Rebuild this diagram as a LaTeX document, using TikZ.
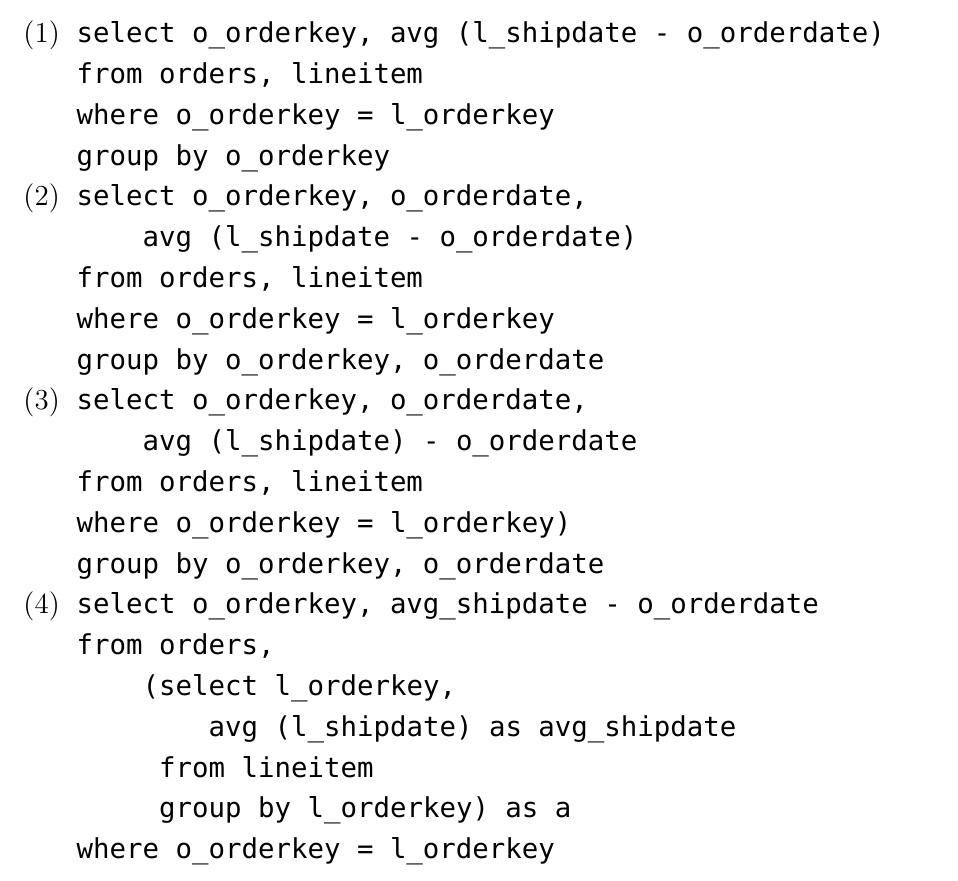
\documentclass[tikz,border=0pt]{standalone}
\usepackage{fontspec}
\usepackage{tikz}
\usetikzlibrary{positioning}
\newfontfamily\sqlfont{DejaVu Sans Mono}
\newlength{\cw}
\setlength{\cw}{8.25pt}

\begin{document}
\begin{tikzpicture}[
    code/.style={font=\fontsize{13.7pt}{20.4pt}\sqlfont, inner sep=0pt, outer sep=0pt, text height=14pt, text depth=6.4pt, anchor=north west},
    num/.style={font=\fontsize{14.5pt}{20.4pt}\selectfont, inner sep=0pt, outer sep=0pt, anchor=base east, xshift=-8.4pt}
]
\useasboundingbox (0,0) rectangle (479pt,-440pt);

% Query (1)
\node[code] (q1a) at (38.3pt,-7.35pt) {select o\_orderkey, avg (l\_shipdate - o\_orderdate)};
\node[code] (q1b) at (q1a.south west) {from orders, lineitem};
\node[code] (q1c) at (q1b.south west) {where o\_orderkey = l\_orderkey};
\node[code] (q1d) at (q1c.south west) {group by o\_orderkey};

% Query (2)
\node[code] (q2a) at (q1d.south west) {select o\_orderkey, o\_orderdate,};
\node[code, xshift=4\cw] (q2b) at (q2a.south west) {avg (l\_shipdate - o\_orderdate)};
\node[code, xshift=-4\cw] (q2c) at (q2b.south west) {from orders, lineitem};
\node[code] (q2d) at (q2c.south west) {where o\_orderkey = l\_orderkey};
\node[code] (q2e) at (q2d.south west) {group by o\_orderkey, o\_orderdate};

% Query (3)
\node[code] (q3a) at (q2e.south west) {select o\_orderkey, o\_orderdate,};
\node[code, xshift=4\cw] (q3b) at (q3a.south west) {avg (l\_shipdate) - o\_orderdate};
\node[code, xshift=-4\cw] (q3c) at (q3b.south west) {from orders, lineitem};
\node[code] (q3d) at (q3c.south west) {where o\_orderkey = l\_orderkey)};
\node[code] (q3e) at (q3d.south west) {group by o\_orderkey, o\_orderdate};

% Query (4)
\node[code] (q4a) at (q3e.south west) {select o\_orderkey, avg\_shipdate - o\_orderdate};
\node[code] (q4b) at (q4a.south west) {from orders,};
\node[code, xshift=4\cw] (q4c) at (q4b.south west) {(select l\_orderkey,};
\node[code, xshift=4\cw] (q4d) at (q4c.south west) {avg (l\_shipdate) as avg\_shipdate};
\node[code, xshift=-3\cw] (q4e) at (q4d.south west) {from lineitem};
\node[code] (q4f) at (q4e.south west) {group by l\_orderkey) as a};
\node[code, xshift=-5\cw] (q4g) at (q4f.south west) {where o\_orderkey = l\_orderkey};

% Query numbers
\node[num] (n1) at (q1a.base west) {(1)};
\node[num] (n2) at (q2a.base west) {(2)};
\node[num] (n3) at (q3a.base west) {(3)};
\node[num] (n4) at (q4a.base west) {(4)};

\end{tikzpicture}
\end{document}
